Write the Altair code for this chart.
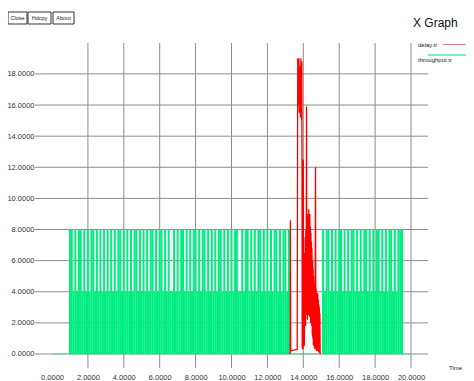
import altair as alt
import pandas as pd

# ---------------- data ----------------
x_ticks = [0, 2, 4, 6, 8, 10, 12, 14, 16, 18, 20]
y_ticks = [0, 2, 4, 6, 8, 10, 12, 14, 16, 18]
grid_x = [2, 4, 6, 8, 10, 12, 14, 16, 18, 20]
grid_y = [0, 2, 4, 6, 8, 10, 12, 14, 16, 18]

thr_t = [
    1.0, 1.1, 1.2, 1.3, 1.4, 1.5, 1.6, 1.7, 1.8, 1.9,
    2.0, 2.1, 2.2, 2.3, 2.4, 2.5, 2.6, 2.7, 2.8, 2.9,
    3.0, 3.1, 3.2, 3.3, 3.4, 3.5, 3.6, 3.7, 3.8, 3.9,
    4.0, 4.1, 4.2, 4.3, 4.4, 4.5, 4.6, 4.7, 4.8, 4.9,
    5.0, 5.1, 5.2, 5.3, 5.4, 5.5, 5.6, 5.7, 5.8, 5.9,
    6.0, 6.1, 6.2, 6.3, 6.4, 6.5, 6.6, 6.7, 6.8, 6.9,
    7.0, 7.1, 7.2, 7.3, 7.4, 7.5, 7.6, 7.7, 7.8, 7.9,
    8.0, 8.1, 8.2, 8.3, 8.4, 8.5, 8.6, 8.7, 8.8, 8.9,
    9.0, 9.1, 9.2, 9.3, 9.4, 9.5, 9.6, 9.7, 9.8, 9.9,
    10.0, 10.1, 10.2, 10.3, 10.4, 10.5, 10.6, 10.7, 10.8, 10.9,
    11.0, 11.1, 11.2, 11.3, 11.4, 11.5, 11.6, 11.7, 11.8, 11.9,
    12.0, 12.1, 12.2, 12.3, 12.4, 12.5, 12.6, 12.7, 12.8, 12.9,
    13.0, 13.1, 13.2,
    15.1, 15.2, 15.3, 15.4, 15.5, 15.6, 15.7, 15.8, 15.9,
    16.0, 16.1, 16.2, 16.3, 16.4, 16.5, 16.6, 16.7, 16.8, 16.9,
    17.0, 17.1, 17.2, 17.3, 17.4, 17.5, 17.6, 17.7, 17.8, 17.9,
    18.0, 18.1, 18.2, 18.3, 18.4, 18.5, 18.6, 18.7, 18.8, 18.9,
    19.0, 19.1, 19.2, 19.3, 19.4, 19.5,
]
thr_v = [
    8, 8, 4, 8, 4, 8, 8, 4, 8, 4,
    8, 4, 8, 8, 4, 8, 4, 8, 4, 8,
    4, 8, 4, 8, 4, 8, 4, 8, 8, 4,
    8, 4, 8, 4, 8, 4, 8, 8, 4, 8,
    4, 8, 4, 8, 4, 8, 8, 4, 8, 4,
    8, 8, 4, 8, 4, 8, 4, 4, 8, 4,
    8, 4, 8, 8, 4, 8, 4, 8, 4, 8,
    8, 4, 8, 4, 8, 8, 4, 8, 4, 8,
    4, 8, 4, 8, 8, 4, 8, 4, 8, 4,
    8, 4, 8, 8, 4, 4, 8, 4, 8, 8,
    4, 8, 4, 8, 4, 8, 8, 4, 8, 4,
    8, 4, 8, 4, 8, 8, 4, 8, 4, 8,
    8, 4, 8,
    8, 4, 8, 8, 4, 8, 4, 8, 4,
    8, 8, 4, 8, 4, 8, 4, 8, 8, 4,
    8, 4, 8, 4, 8, 8, 4, 8, 4, 8,
    4, 8, 8, 4, 8, 4, 8, 4, 8, 8,
    4, 8, 4, 8, 8, 8,
]

red_t = [
    13.27, 13.28, 13.30, 13.66, 13.69, 13.72, 13.75, 13.78, 13.81, 13.84,
    13.87, 13.90, 13.92, 13.94, 13.98, 14.00, 14.02, 14.06, 14.08, 14.095,
    14.11, 14.125, 14.14, 14.155, 14.18, 14.20, 14.215, 14.23, 14.245, 14.26,
    14.275, 14.29, 14.305, 14.32, 14.335, 14.35, 14.365, 14.38, 14.395, 14.41,
    14.425, 14.44, 14.455, 14.47, 14.485, 14.50, 14.515, 14.53, 14.545, 14.56,
    14.575, 14.59, 14.605, 14.62, 14.635, 14.65, 14.68, 14.70, 14.715, 14.73,
    14.745, 14.76, 14.775, 14.79, 14.805, 14.82, 14.835, 14.85, 14.865, 14.88,
    14.895, 14.91, 14.925, 14.94,
]
red_v = [
    0.0, 8.6, 0.2, 0.3, 19.0, 16.0, 19.0, 15.5, 18.5, 15.2,
    19.0, 15.0, 18.8, 0.4, 0.3, 12.5, 0.5, 0.6, 6.5, 2.0,
    7.5, 1.8, 8.0, 2.5, 15.9, 2.8, 8.6, 2.2, 9.0, 3.0,
    8.4, 2.5, 9.3, 3.2, 8.8, 2.4, 9.0, 3.0, 8.2, 2.0,
    7.8, 2.6, 7.2, 1.8, 6.8, 1.2, 6.0, 1.0, 5.5, 0.6,
    5.0, 0.5, 4.6, 0.4, 4.4, 0.3, 12.0, 0.3, 4.2, 0.2,
    4.0, 0.2, 3.8, 0.2, 3.9, 0.2, 3.5, 0.1, 3.2, 0.1,
    3.0, 0.1, 2.6, 0.0,
]

series_names = ["delay.tr", "throughput.tr"]
buttons = ["Close", "Hdcpy", "About"]
title_text = "X Graph"
x_title = "Time"

# ---------------- chart ----------------
FONT = "Liberation Sans"
GREEN = "#00ee80"
RED = "#ff0000"
GRID = "#8c8c8c"

xs = alt.Scale(domain=[-0.947, 20.947], nice=False, zero=False)
ys = alt.Scale(domain=[-0.9, 19.987], nice=False, zero=False)

X_AX = alt.Axis(
    values=x_ticks, format=".4f", grid=False, domain=False, ticks=False,
    labelFontSize=7.5, labelColor="#333333", labelFont=FONT, labelPadding=5,
    labelFlush=False, labelOverlap=False, title=None)
Y_AX = alt.Axis(
    values=y_ticks, format=".4f", grid=False, domain=False, ticks=False,
    labelFontSize=7.5, labelColor="#333333", labelFont=FONT, labelPadding=1,
    labelFlush=False, labelOverlap=False, title=None)

thr_df = pd.DataFrame({"t": thr_t, "v": thr_v})
red_df = pd.DataFrame({"t": red_t, "v": red_v, "i": list(range(len(red_t)))})

hgrid = alt.Chart(pd.DataFrame({"g": grid_y})).mark_rule(color=GRID, strokeWidth=1).encode(
    y=alt.Y("g:Q", scale=ys, axis=Y_AX),
    x=alt.value(0), x2=alt.value(393),
)
vgrid = alt.Chart(pd.DataFrame({"g": grid_x})).mark_rule(color=GRID, strokeWidth=1).encode(
    x=alt.X("g:Q", scale=xs, axis=X_AX),
    y=alt.value(0), y2=alt.value(325),
)

zero_line = alt.Chart(pd.DataFrame({"a": [0], "b": [20], "z": [0]})).mark_rule(
    color=GREEN, strokeWidth=1, opacity=0.6
).encode(
    x=alt.X("a:Q", scale=xs, axis=X_AX),
    x2="b:Q",
    y=alt.Y("z:Q", scale=ys, axis=Y_AX),
)

thr = alt.Chart(thr_df).mark_rule(color=GREEN, strokeWidth=2).encode(
    x=alt.X("t:Q", scale=xs, axis=X_AX),
    y=alt.Y("v:Q", scale=ys, axis=Y_AX),
    y2=alt.datum(0),
)

red = alt.Chart(red_df).mark_line(color=RED, strokeWidth=1.3).encode(
    x=alt.X("t:Q", scale=xs, axis=X_AX),
    y=alt.Y("v:Q", scale=ys, axis=Y_AX),
    order="i:Q",
)

def label(txt, x, y, size, align="left", color="#222222"):
    return alt.Chart(pd.DataFrame({"s": [txt]})).mark_text(
        font=FONT, fontSize=size, align=align, baseline="middle", color=color
    ).encode(text="s:N", x=alt.value(x), y=alt.value(y))

title = label(title_text, 378, -20, 12, color="#111111")
time_lbl = label(x_title, 414, 325, 6)

leg_red = alt.Chart(pd.DataFrame({"k": [0]})).mark_rule(color="#e88080", strokeWidth=1).encode(
    x=alt.value(408), x2=alt.value(440), y=alt.value(1.5))
leg_green = alt.Chart(pd.DataFrame({"k": [0]})).mark_rule(color="#40f0b0", strokeWidth=1.5).encode(
    x=alt.value(393), x2=alt.value(440), y=alt.value(12))
leg_t1 = label(series_names[0], 383, 2, 6)
leg_t2 = label(series_names[1], 383, 16.5, 6)

btn_layers = []
for name, x0, x1 in zip(buttons, [-27, -7, 18], [-8, 16, 39]):
    box = alt.Chart(pd.DataFrame({"k": [0]})).mark_rect(
        fill="white", stroke="#333333", strokeWidth=1
    ).encode(x=alt.value(x0), x2=alt.value(x1), y=alt.value(-31), y2=alt.value(-19))
    btn_layers.append(box)
    btn_layers.append(label(name, (x0 + x1) / 2, -25, 5.5, align="center"))

chart = alt.layer(
    hgrid, vgrid, zero_line, thr, red, title, time_lbl,
    leg_red, leg_green, leg_t1, leg_t2, *btn_layers
).properties(
    width=393, height=325,
    padding={"left": 27, "top": 35, "right": 38, "bottom": 13},
    autosize=alt.AutoSizeParams(type="none"),
    background="white",
).configure_view(stroke=None)

chart.save("out.html", embed_options={"renderer": "svg", "actions": False})
